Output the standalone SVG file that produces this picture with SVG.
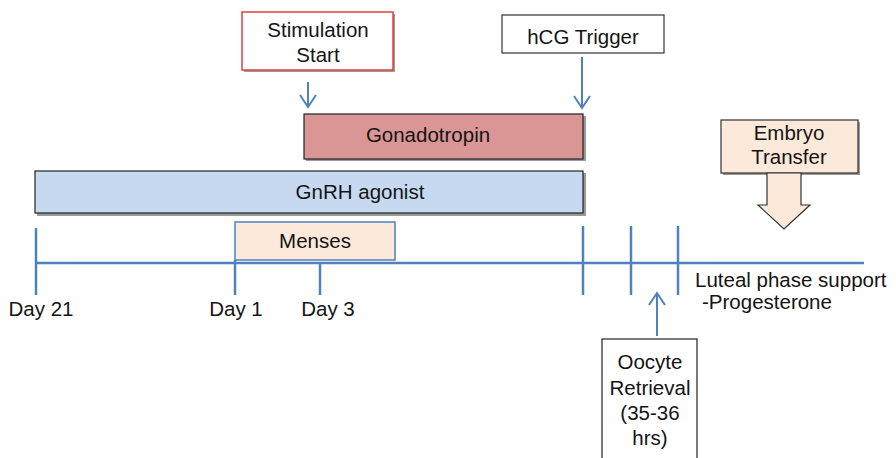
<svg xmlns="http://www.w3.org/2000/svg" width="896" height="458" viewBox="0 0 896 458">
<style>
text{font-family:"Liberation Sans",Arial,sans-serif;font-size:20.5px;fill:#141414;text-anchor:middle}
.sh{fill:#9a9a9a}
.ln{stroke:#4f81bd;stroke-width:2.5;fill:none}
.ar{stroke:#4f81bd;stroke-width:2;fill:none}
</style>
<rect width="896" height="458" fill="#ffffff"/>
<g id="stimulation-start">
<rect class="sh" x="244" y="14" width="151" height="58"/>
<rect x="242" y="12" width="151" height="58" fill="#ffffff" stroke="#e04040" stroke-width="1.5"/>
<text x="318" y="37">Stimulation</text>
<text x="318" y="62">Start</text>
</g>
<g id="hcg-trigger">
<rect x="502" y="15" width="162" height="38" fill="#ffffff" stroke="#333333" stroke-width="1.2"/>
<text x="583" y="44">hCG Trigger</text>
</g>
<g id="gonadotropin">
<rect class="sh" x="306" y="116" width="280" height="45"/>
<rect x="304" y="114" width="279" height="45" fill="#d99694" stroke="#222222" stroke-width="1.2"/>
<text x="428" y="142">Gonadotropin</text>
</g>
<g id="gnrh-agonist">
<rect class="sh" x="37" y="173" width="549" height="43"/>
<rect x="35" y="171" width="548" height="42" fill="#c6d9f0" stroke="#222222" stroke-width="1.2"/>
<text x="360" y="199">GnRH agonist</text>
</g>
<g id="embryo-transfer">
<rect class="sh" x="723" y="122" width="137" height="53"/>
<rect x="721" y="120" width="137" height="53" fill="#fde9d9" stroke="#333333" stroke-width="1.2"/>
<text x="789" y="140">Embryo</text>
<text x="789" y="164">Transfer</text>
<path d="M767,173 L801,173 L801,205 L810,205 L784,229 L758,205 L767,205 Z" fill="#fde9d9" stroke="#333333" stroke-width="1.2"/>
</g>
<g id="menses">
<rect x="235" y="222" width="160" height="38" fill="#fde9d9" stroke="#4f81bd" stroke-width="1.5"/>
<text x="315" y="248">Menses</text>
</g>
<g id="oocyte-retrieval">
<rect x="602" y="339" width="95" height="130" fill="#ffffff" stroke="#222222" stroke-width="1.2"/>
<text x="650" y="369">Oocyte</text>
<text x="650" y="395">Retrieval</text>
<text x="650" y="420">(35-36</text>
<text x="650" y="445">hrs)</text>
</g>
<g id="timeline">
<line class="ln" x1="35" y1="263" x2="864" y2="263"/>
<line class="ln" x1="36" y1="228" x2="36" y2="295"/>
<line class="ln" x1="235" y1="260" x2="235" y2="295"/>
<line class="ln" x1="320" y1="263" x2="320" y2="295"/>
<line class="ln" x1="583" y1="226" x2="583" y2="295"/>
<line class="ln" x1="631" y1="226" x2="631" y2="295"/>
<line class="ln" x1="678" y1="226" x2="678" y2="295"/>
<text x="41" y="316">Day 21</text>
<text x="236" y="316">Day 1</text>
<text x="328" y="316">Day 3</text>
<text x="695" y="287" style="text-anchor:start">Luteal phase support</text>
<text x="702" y="309" style="text-anchor:start">-Progesterone</text>
</g>
<g id="connectors">
<path class="ar" d="M308,82 L308,107 M300,95 L308,107 L316,95"/>
<path class="ar" d="M582,57 L582,108 M574,96 L582,108 L590,96"/>
<path class="ar" d="M657,336 L657,293 M649,305 L657,293 L665,305"/>
</g>
</svg>
